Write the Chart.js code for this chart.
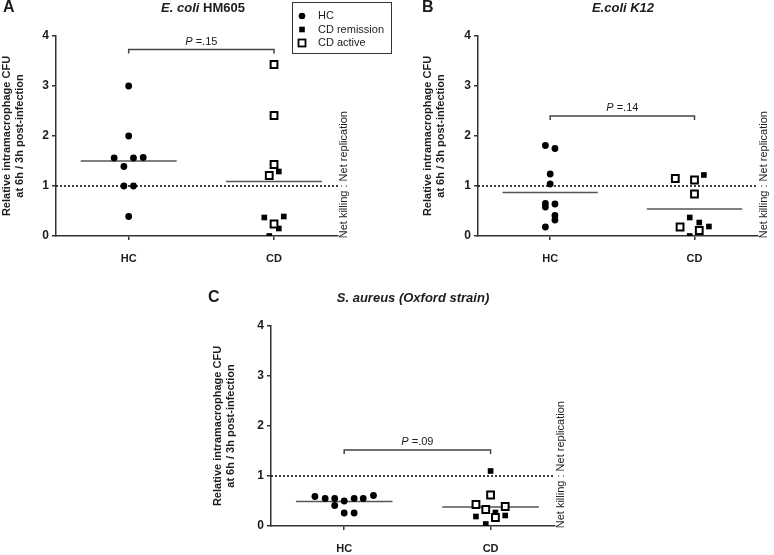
<!DOCTYPE html>
<html><head><meta charset="utf-8">
<script src="https://cdn.jsdelivr.net/npm/chart.js@4.4.1/dist/chart.umd.min.js"></script>
<style>
html,body{margin:0;padding:0;background:#fff;}
body{width:774px;height:555px;position:relative;overflow:hidden;}
canvas{position:absolute;}
</style></head><body>
<canvas id="cA" width="395" height="275" style="left:0px;top:0px"></canvas>
<canvas id="cB" width="379" height="275" style="left:395px;top:0px"></canvas>
<canvas id="cC" width="420" height="280" style="left:180px;top:275px"></canvas>
<script>
// ---------- data ----------
const categories = ['HC', 'CD'];
const yTickValues = [0, 1, 2, 3, 4];
const legendLabels = ['HC', 'CD remission', 'CD active'];
const referenceLevel = 1;

// Panel A : E. coli HM605
const aHC = [3.0, 2.0, 1.56, 1.56, 1.57, 1.39, 1.0, 1.0, 0.39];
const aHCJitter = [0, 0, -0.1, 0.033, 0.1, -0.033, -0.033, 0.033, 0];
const aCDRemission = [1.29, 0.37, 0.39, 0.15, 0.0];
const aCDRemissionJitter = [0.033, -0.067, 0.067, 0.033, -0.033];
const aCDActive = [3.43, 2.41, 1.43, 1.21, 0.24];
const aCDActiveJitter = [0, 0, 0, -0.033, 0];
const aMeans = [1.5, 1.09];
const aPValue = '.15';
const aBracketLevel = 3.73;

// Panel B : E.coli K12
const bHC = [1.81, 1.75, 1.24, 1.04, 0.65, 0.58, 0.64, 0.41, 0.32, 0.18];
const bHCJitter = [-0.033, 0.033, 0, 0, -0.033, -0.033, 0.033, 0.033, 0.033, -0.033];
const bCDRemission = [1.22, 0.37, 0.27, 0.19, 0.0];
const bCDRemissionJitter = [0.065, -0.033, 0.033, 0.1, -0.033];
const bCDActive = [1.15, 1.12, 0.84, 0.18, 0.11];
const bCDActiveJitter = [-0.133, 0, 0, -0.1, 0.033];
const bMeans = [0.87, 0.54];
const bPValue = '.14';
const bBracketLevel = 2.4;

// Panel C : S. aureus (Oxford strain)
const cHC = [0.59, 0.55, 0.55, 0.41, 0.5, 0.55, 0.55, 0.61, 0.26, 0.26];
const cHCJitter = [-0.2, -0.13, -0.065, -0.065, 0, 0.068, 0.13, 0.2, 0, 0.068];
const cCDRemission = [1.1, 0.19, 0.27, 0.21, 0.04];
const cCDRemissionJitter = [0, -0.1, 0.033, 0.1, -0.033];
const cCDActive = [0.62, 0.43, 0.33, 0.39, 0.17];
const cCDActiveJitter = [0, -0.1, -0.033, 0.1, 0.033];
const cMeans = [0.49, 0.38];
const cPValue = '.09';
const cBracketLevel = 1.52;

// ---------- rendering ----------
const FONT = '"Liberation Sans", Arial, Helvetica, sans-serif';
const INK = '#1c1c1c';
const AXIS = '#333';
const catPos = categories.map((c, i) => i + 1);
const X_MIN = 0.5, X_MAX = 2.44, MEAN_HALF = 0.33, BRACKET_DROP = 0.08;

function pts(values, jitter, center) {
  return values.map((v, i) => ({ x: center + jitter[i], y: v }));
}

const decor = {
  id: 'decor',
  afterDraw(chart, args, o) {
    const ctx = chart.ctx, ca = chart.chartArea;
    const xs = chart.scales.x, ys = chart.scales.y;
    ctx.save();
    ctx.fillStyle = INK;
    ctx.textBaseline = 'middle';
    // panel letter
    ctx.font = 'bold 16px ' + FONT;
    ctx.textAlign = 'left';
    ctx.fillText(o.letter, o.letterX, ca.top - 28);
    // title (mixed italic)
    let total = 0;
    const parts = o.title.map(p => {
      ctx.font = (p[1] ? 'italic ' : '') + 'bold 13px ' + FONT;
      const w = ctx.measureText(p[0]).width; total += w; return { t: p[0], it: p[1], w };
    });
    let tx = (ca.left + ca.right) / 2 + o.titleDx - total / 2;
    parts.forEach(p => {
      ctx.font = (p.it ? 'italic ' : '') + 'bold 13px ' + FONT;
      ctx.fillText(p.t, tx, ca.top - 28); tx += p.w;
    });
    // P value text
    const mx = (xs.getPixelForValue(catPos[0]) + xs.getPixelForValue(catPos[1])) / 2;
    const py = ys.getPixelForValue(o.bracket) - 8;
    ctx.font = 'italic 11px ' + FONT;
    const wP = ctx.measureText('P').width;
    ctx.font = '11px ' + FONT;
    const rest = ' =' + o.p;
    const wR = ctx.measureText(rest).width;
    let px = mx - (wP + wR) / 2;
    ctx.font = 'italic 11px ' + FONT; ctx.fillText('P', px, py);
    ctx.font = '11px ' + FONT; ctx.fillText(rest, px + wP, py);
    // Net killing : Net replication
    ctx.font = '11px ' + FONT;
    const pre = 'Net killing ';
    const wPre = ctx.measureText(pre).width, wCol = ctx.measureText(':').width;
    const y1 = ys.getPixelForValue(referenceLevel);
    ctx.save();
    ctx.translate(ca.right + 6, y1 + wPre + wCol / 2);
    ctx.rotate(-Math.PI / 2);
    ctx.textAlign = 'left';
    ctx.fillText('Net killing : Net replication', 0, 0);
    ctx.restore();
    // legend
    if (o.legend) {
      const L = o.legend;
      ctx.strokeStyle = AXIS; ctx.lineWidth = 1;
      ctx.strokeRect(L.x + 0.5, L.y + 0.5, L.w, L.h);
      const rows = [L.y + 14, L.y + 27.5, L.y + 41];
      const mkx = L.x + 10;
      ctx.fillStyle = '#000';
      ctx.beginPath(); ctx.arc(mkx, rows[0], 3.3, 0, Math.PI * 2); ctx.fill();
      ctx.fillRect(mkx - 2.8, rows[1] - 2.8, 5.6, 5.6);
      ctx.fillStyle = '#fff'; ctx.fillRect(mkx - 3.5, rows[2] - 3.5, 7, 7);
      ctx.strokeStyle = '#000'; ctx.lineWidth = 1.8; ctx.strokeRect(mkx - 3.5, rows[2] - 3.5, 7, 7);
      ctx.fillStyle = INK; ctx.font = '11px ' + FONT; ctx.textAlign = 'left';
      legendLabels.forEach((t, i) => ctx.fillText(t, L.x + 26, rows[i]));
    }
    ctx.restore();
  }
};

function buildPanel(cfg) {
  const canvas = document.getElementById(cfg.id);
  const W = canvas.width, H = canvas.height, A = cfg.area;
  const lineDs = (data, color, width, dash, order) => ({
    type: 'scatter', data, showLine: true, borderColor: color, borderWidth: width,
    borderDash: dash, pointRadius: 0, pointHoverRadius: 0, fill: false, tension: 0, order
  });
  const datasets = [
    { label: 'CD active', data: pts(cfg.act, cfg.actJ, catPos[1]), pointStyle: 'rect', pointRadius: 4.8,
      backgroundColor: '#fff', borderColor: '#000', borderWidth: 2, order: 0 },
    { label: 'CD remission', data: pts(cfg.rem, cfg.remJ, catPos[1]), pointStyle: 'rect', pointRadius: 4,
      backgroundColor: '#000', borderColor: '#000', borderWidth: 0, order: 1 },
    { label: 'HC', data: pts(cfg.hc, cfg.hcJ, catPos[0]), pointStyle: 'circle', pointRadius: 3.4,
      backgroundColor: '#000', borderColor: '#000', borderWidth: 0, order: 2 },
    lineDs([{ x: catPos[0] - MEAN_HALF, y: cfg.means[0] }, { x: catPos[0] + MEAN_HALF, y: cfg.means[0] }], '#555', 1.6, [], 3),
    lineDs([{ x: catPos[1] - MEAN_HALF, y: cfg.means[1] }, { x: catPos[1] + MEAN_HALF, y: cfg.means[1] }], '#555', 1.6, [], 3),
    lineDs([{ x: X_MIN, y: referenceLevel }, { x: X_MAX, y: referenceLevel }], '#000', 1.5, [2, 2], 4),
    lineDs([{ x: catPos[0], y: cfg.bracket - BRACKET_DROP }, { x: catPos[0], y: cfg.bracket },
            { x: catPos[1], y: cfg.bracket }, { x: catPos[1], y: cfg.bracket - BRACKET_DROP }], '#444', 1.5, [], 4)
  ];
  new Chart(canvas, {
    type: 'scatter',
    data: { datasets },
    options: {
      responsive: false, animation: false, devicePixelRatio: 1,
      layout: { padding: { left: cfg.padLeft, right: W - A.right, top: A.top, bottom: 0 } },
      plugins: { legend: { display: false }, tooltip: { enabled: false }, decor: cfg.decor },
      events: [],
      scales: {
        x: {
          type: 'linear', min: X_MIN, max: X_MAX,
          afterBuildTicks: s => { s.ticks = catPos.map(v => ({ value: v })); },
          afterFit: s => { s.height = H - A.bottom; },
          ticks: { callback: v => categories[catPos.indexOf(v)] || '', color: INK, padding: 12,
                   font: { family: FONT, size: 11, weight: 'bold' }, maxRotation: 0, autoSkip: false },
          grid: { drawOnChartArea: false, drawTicks: true, tickLength: 4, color: AXIS, lineWidth: 1.5 },
          border: { display: true, color: AXIS, width: 1.5 }
        },
        y: {
          type: 'linear', min: 0, max: 4,
          afterBuildTicks: s => { s.ticks = yTickValues.map(v => ({ value: v })); },
          afterFit: s => { s.width = A.left - cfg.padLeft; },
          ticks: { color: INK, padding: 3, font: { family: FONT, size: 12, weight: 'bold' } },
          grid: { drawOnChartArea: false, drawTicks: true, tickLength: 4, color: AXIS, lineWidth: 1.5 },
          border: { display: true, color: AXIS, width: 1.5 },
          title: { display: true, text: ['Relative intramacrophage CFU', 'at 6h / 3h post-infection'],
                   color: INK, font: { family: FONT, size: 11, weight: 'bold', lineHeight: 1.2 },
                   padding: { top: 0.5, bottom: 0 } }
        }
      }
    },
    plugins: [decor]
  });
}

buildPanel({ id: 'cA', hc: aHC, hcJ: aHCJitter, rem: aCDRemission, remJ: aCDRemissionJitter,
  act: aCDActive, actJ: aCDActiveJitter, means: aMeans, bracket: aBracketLevel,
  area: { left: 56, right: 338, top: 36, bottom: 236 }, padLeft: 0,
  decor: { letter: 'A', letterX: 3, title: [['E. coli', true], [' HM605', false]], titleDx: 6,
           p: aPValue, bracket: aBracketLevel, legend: { x: 292, y: 2, w: 99, h: 51 } } });

buildPanel({ id: 'cB', hc: bHC, hcJ: bHCJitter, rem: bCDRemission, remJ: bCDRemissionJitter,
  act: bCDActive, actJ: bCDActiveJitter, means: bMeans, bracket: bBracketLevel,
  area: { left: 83, right: 363, top: 36, bottom: 236 }, padLeft: 26,
  decor: { letter: 'B', letterX: 27, title: [['E.coli K12', true]], titleDx: 5,
           p: bPValue, bracket: bBracketLevel, legend: null } });

buildPanel({ id: 'cC', hc: cHC, hcJ: cHCJitter, rem: cCDRemission, remJ: cCDRemissionJitter,
  act: cCDActive, actJ: cCDActiveJitter, means: cMeans, bracket: cBracketLevel,
  area: { left: 91, right: 375, top: 51, bottom: 251 }, padLeft: 31,
  decor: { letter: 'C', letterX: 28, title: [['S. aureus (Oxford strain)', true]], titleDx: 0,
           p: cPValue, bracket: cBracketLevel, legend: null } });
</script>
</body></html>
